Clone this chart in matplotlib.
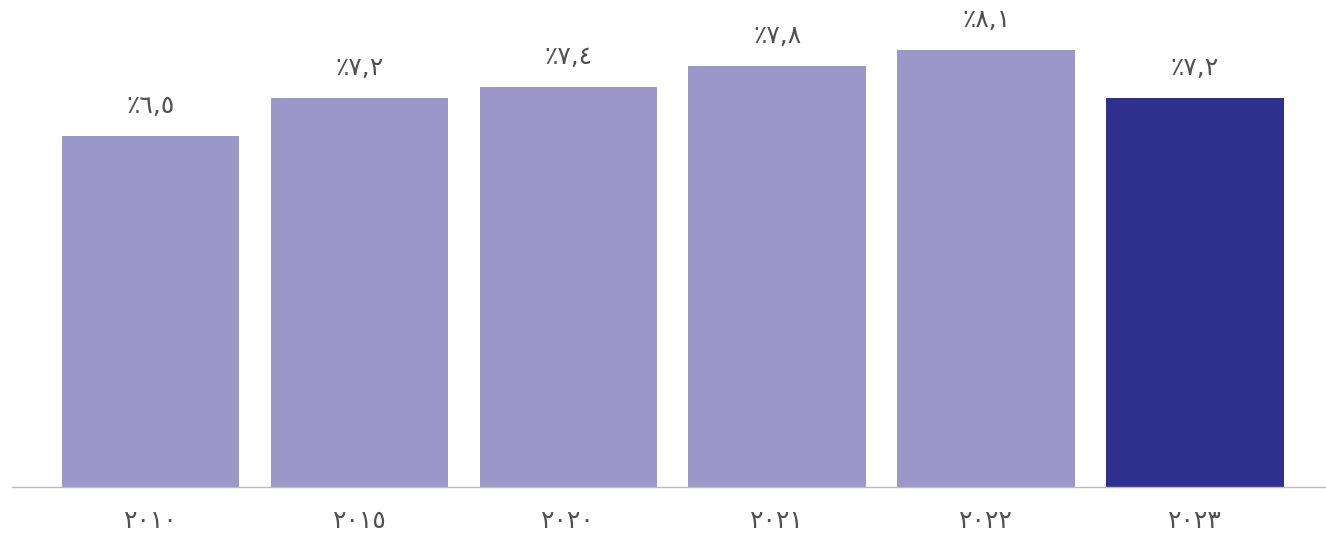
import matplotlib
matplotlib.use("Agg")
import matplotlib.pyplot as plt

years = ["٢٠١٠", "٢٠١٥", "٢٠٢٠", "٢٠٢١", "٢٠٢٢", "٢٠٢٣"]
values = [6.5, 7.2, 7.4, 7.8, 8.1, 7.2]
labels = ["٪٦,٥", "٪٧,٢", "٪٧,٤", "٪٧,٨", "٪٨,١", "٪٧,٢"]
colors = ["#9d96c9"] * 5 + ["#2e2f8f"]

plt.rcParams['font.family'] = ['DejaVu Sans']

fig = plt.figure(figsize=(13.26, 5.36), dpi=100)
ax = fig.add_axes([12 / 1326, 49 / 536, 1314 / 1326, 487 / 536])

x = range(len(years))
bars = ax.bar(x, values, width=0.85, color=colors)

for b, lab in zip(bars, labels):
    ax.annotate(lab, (b.get_x() + b.get_width() / 2, b.get_height()),
                xytext=(0, 13), textcoords="offset points",
                ha="center", va="bottom", fontsize=18, color="#505050")

ax.set_xlim(-0.663, 5.627)
ax.set_ylim(0, 9.02)
ax.set_xticks(list(x))
ax.set_xticklabels(years, fontsize=18, color="#505050")
ax.tick_params(axis="x", length=0, pad=16)
ax.set_yticks([])
for s in ["top", "right", "left"]:
    ax.spines[s].set_visible(False)
ax.spines["bottom"].set_color("#bbbbbb")
ax.spines["bottom"].set_linewidth(1)

fig.savefig("out.png", dpi=100)
